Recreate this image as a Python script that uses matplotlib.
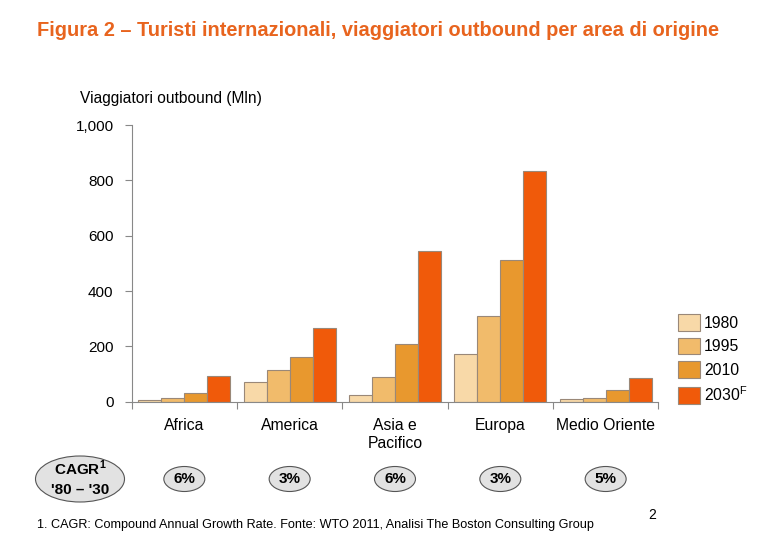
import matplotlib.pyplot as plt
import numpy as np
from matplotlib.patches import Ellipse, Patch

plt.rcParams['font.family'] = ['Liberation Sans', 'DejaVu Sans']

regions = ["Africa", "America", "Asia e\nPacifico", "Europa", "Medio Oriente"]
years = ["1980", "1995", "2010", "2030$^{\\mathregular{F}}$"]
v1980 = [7, 73, 26, 171, 8]
v1995 = [12, 113, 91, 309, 13]
v2010 = [32, 160, 207, 511, 42]
v2030 = [92, 266, 544, 832, 84]
cagr = ["6%", "3%", "6%", "3%", "5%"]

colors = ["#F8D9A8", "#F1BB6B", "#E8982E", "#F05A0A"]
edge = "#9A8878"

fig = plt.figure(figsize=(7.8, 5.4), dpi=100)
ax = fig.add_axes([0.1688, 0.2561, 0.6752, 0.5124])

x = np.arange(len(regions))
w = 0.218
series = [v1980, v1995, v2010, v2030]
for i, vals in enumerate(series):
    ax.bar(x + (i - 1.5) * w, vals, width=w, color=colors[i],
           edgecolor=edge, linewidth=0.8)

ax.set_xlim(-0.5, len(regions) - 0.5)
ax.set_ylim(0, 1000)
ax.set_yticks([0, 200, 400, 600, 800, 1000])
ax.set_yticklabels(["0", "200", "400", "600", "800", "1,000"])
ax.set_xticks(np.arange(len(regions) + 1) - 0.5)
ax.set_xticklabels([])
ax.set_xticks(x, minor=True)
ax.set_xticklabels(regions, minor=True, fontsize=11.3)
ax.tick_params(axis='x', which='minor', length=0, pad=12)
ax.tick_params(axis='x', which='major', length=5, color="#888888")
ax.tick_params(axis='y', length=5, color="#888888", labelsize=11, pad=8)
for s in ["top", "right"]:
    ax.spines[s].set_visible(False)
for s in ["left", "bottom"]:
    ax.spines[s].set_color("#888888")

handles = [Patch(facecolor=c, edgecolor=edge, linewidth=0.8) for c in colors]
fig.legend(handles, years, loc="upper left", bbox_to_anchor=(0.861, 0.43),
           frameon=False, fontsize=11.3, handlelength=1.4, handleheight=1.25,
           handletextpad=0.25, labelspacing=0.45, borderaxespad=0)

fig.text(0.047, 0.944, "Figura 2 – Turisti internazionali, viaggiatori outbound per area di origine",
         color="#E8641E", fontsize=14.4, fontweight="bold", va="center")
fig.text(0.102, 0.818, "Viaggiatori outbound (Mln)", fontsize=11.2, va="center")

# CAGR ellipses
big = Ellipse((80, 540 - 479), 89, 46, transform=None, facecolor="#E2E2E2",
              edgecolor="#555555", linewidth=0.8)
fig.patches.append(big)
fig.text(80 / 780, 1 - 468 / 540, "CAGR$^{\\mathregular{1}}$", ha="center", va="center",
         fontsize=11, fontweight="bold")
fig.text(80 / 780, 1 - 490 / 540, "'80 – '30", ha="center", va="center",
         fontsize=11, fontweight="bold")
for i, c in enumerate(cagr):
    px = ax.transData.transform((x[i], 0))[0]
    e = Ellipse((px, 540 - 479), 41, 25, transform=None, facecolor="#E2E2E2",
                edgecolor="#555555", linewidth=0.8)
    fig.patches.append(e)
    fig.text(px / 780, 1 - 479 / 540, c, ha="center", va="center",
             fontsize=11, fontweight="bold")

fig.text(0.047, 1 - 525 / 540,
         "1. CAGR: Compound Annual Growth Rate. Fonte: WTO 2011, Analisi The Boston Consulting Group",
         fontsize=9.1, va="center")
fig.text(648 / 780, 1 - 515 / 540, "2", fontsize=10, va="center")

fig.savefig("out.png", dpi=100)
